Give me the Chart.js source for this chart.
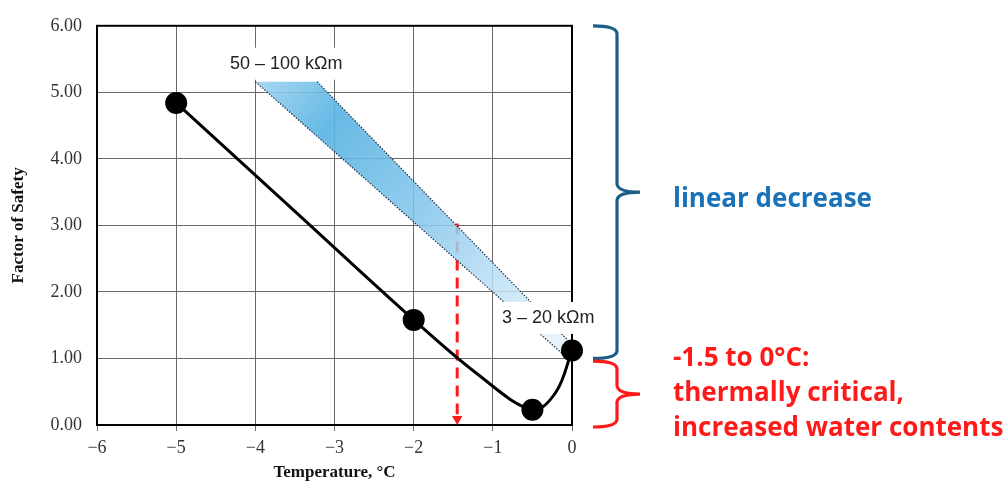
<!DOCTYPE html>
<html>
<head>
<meta charset="utf-8">
<script src="https://cdn.jsdelivr.net/npm/chart.js@4.4.1/dist/chart.umd.min.js"></script>
<style>
  html, body { margin: 0; padding: 0; background: #fff; }
  #wrap { width: 1008px; height: 483px; position: relative; }
</style>
</head>
<body>
<div id="wrap"><canvas id="fos"></canvas></div>
<script>
// measured points (temperature °C, factor of safety)
const pointT = [-5, -2, -0.5, 0];
const pointF = [4.84, 1.58, 0.23, 1.12];

// the smooth trend line
const curveT = [-5, -3.5, -2, -1.2, -0.5, -0.2, 0];
const curveF = [4.84, 3.21, 1.58, 0.77, 0.23, 0.5, 1.12];

// resistivity band (corners of the shaded strip)
const bandT = [-4, -3.22, 0, -0.12];
const bandF = [5.16, 5.16, 1.21, 1.07];
const bandLeftT = [-4, -0.12];
const bandLeftF = [5.16, 1.07];
const bandRightT = [-3.22, 0];
const bandRightF = [5.16, 1.21];

// red dashed arrow at -1.5 °C
const arrowT = [-1.45, -1.45];
const arrowF = [3.03, 0.16];
const arrowHeadF = [0.09];

// band labels
const bandLabels = ["50 \u2013 100 k\u03A9m", "3 \u2013 20 k\u03A9m"];
const bandLabelT = [-3.61, -0.30];
const bandLabelF = [5.43, 1.61];

// braces on the right: [top, bottom] in factor-of-safety units
const braceBlue = [6.0, 1.0];
const braceRed = [0.96, -0.03];
const blueText = ["linear decrease"];
const redText = ["-1.5 to 0\u00B0C:", "thermally critical,", "increased water contents"];

const xTicks = [-6, -5, -4, -3, -2, -1, 0];
const yTicks = [0, 1, 2, 3, 4, 5, 6];

function pts(xs, ys) {
    return xs.map(function (x, i) { return { x: x, y: ys[i] }; });
}

const frame = {
    id: "frame",
    beforeDatasetsDraw: function (chart) {
        const a = chart.chartArea;
        const ctx = chart.ctx;
        ctx.save();
        ctx.strokeStyle = "#000";
        ctx.lineWidth = 2;
        ctx.strokeRect(a.left, a.top, a.right - a.left, a.bottom - a.top);
        ctx.restore();
    },
    afterDatasetsDraw: function (chart) {
        const ctx = chart.ctx;
        const xs = chart.scales.x;
        const ys = chart.scales.y;
        const a = chart.chartArea;

        // band labels on white boxes
        ctx.save();
        ctx.font = "18px 'Liberation Sans', Arial, sans-serif";
        ctx.textAlign = "center";
        ctx.textBaseline = "middle";
        bandLabels.forEach(function (t, i) {
            const cx = xs.getPixelForValue(bandLabelT[i]);
            const cy = ys.getPixelForValue(bandLabelF[i]);
            const w = ctx.measureText(t).width + 12;
            ctx.fillStyle = "#fff";
            ctx.fillRect(cx - w / 2, cy - 16, w, 32);
            ctx.fillStyle = "#222";
            ctx.fillText(t, cx, cy);
        });
        ctx.restore();

        function brace(range, color) {
            const top = ys.getPixelForValue(range[0]);
            const bot = ys.getPixelForValue(range[1]);
            const mid = (top + bot) / 2;
            const x0 = a.right + 21, x1 = a.right + 45, x2 = a.right + 68;
            ctx.save();
            ctx.strokeStyle = color;
            ctx.lineWidth = 3.2;
            ctx.lineJoin = "round";
            ctx.beginPath();
            ctx.moveTo(x0, top);
            ctx.quadraticCurveTo(x1, top, x1, top + 8);
            ctx.lineTo(x1, mid - 8);
            ctx.quadraticCurveTo(x1 + 1, mid, x2, mid);
            ctx.moveTo(x2, mid);
            ctx.quadraticCurveTo(x1 + 1, mid, x1, mid + 8);
            ctx.lineTo(x1, bot - 8);
            ctx.quadraticCurveTo(x1, bot, x0, bot);
            ctx.stroke();
            ctx.restore();
            return mid;
        }

        const bMid = brace(braceBlue, "#1b5e87");
        const rMid = brace(braceRed, "#ff1a1a");

        ctx.save();
        ctx.textAlign = "left";
        ctx.textBaseline = "middle";
        ctx.font = "bold 26px 'Open Sans', sans-serif";
        ctx.fillStyle = "#1a72b9";
        ctx.fillText(blueText[0], a.right + 101, bMid + 7);
        ctx.fillStyle = "#ff1a1a";
        redText.forEach(function (t, i) {
            ctx.fillText(t, a.right + 101, rMid - 35 + i * 35);
        });
        ctx.restore();
    }
};

new Chart(document.getElementById("fos"), {
    type: "scatter",
    data: {
        datasets: [
            {
                data: pts(pointT, pointF),
                backgroundColor: "#000",
                borderWidth: 0,
                pointRadius: 11,
                pointHoverRadius: 11,
                clip: false,
                order: 0
            },
            {
                data: pts(curveT, curveF),
                showLine: true,
                borderColor: "#000",
                borderWidth: 3,
                pointRadius: 0,
                tension: 0.35,
                order: 1
            },
            {
                data: pts(bandLeftT, bandLeftF),
                showLine: true,
                borderColor: "rgba(20,30,50,0.9)",
                borderWidth: 1.2,
                borderDash: [1.5, 1.5],
                pointRadius: 0,
                order: 2
            },
            {
                data: pts(bandRightT, bandRightF),
                showLine: true,
                borderColor: "rgba(20,30,50,0.9)",
                borderWidth: 1.2,
                borderDash: [1.5, 1.5],
                pointRadius: 0,
                order: 2
            },
            {
                data: pts(bandT, bandF),
                showLine: true,
                borderWidth: 0,
                pointRadius: 0,
                fill: "shape",
                backgroundColor: function (c) {
                    const chart = c.chart;
                    if (!chart.chartArea) return "rgba(90,180,225,0.8)";
                    const xs = chart.scales.x, ys = chart.scales.y;
                    const g = chart.ctx.createLinearGradient(
                        xs.getPixelForValue(-4), ys.getPixelForValue(5.16),
                        xs.getPixelForValue(-0.3), ys.getPixelForValue(1.5));
                    g.addColorStop(0, "rgba(160,212,240,0.9)");
                    g.addColorStop(0.22, "rgba(86,178,226,0.9)");
                    g.addColorStop(0.55, "rgba(128,196,234,0.85)");
                    g.addColorStop(1, "rgba(225,241,251,0.85)");
                    return g;
                },
                order: 3
            },
            {
                data: pts(arrowT, arrowF),
                showLine: true,
                borderColor: "#ff1a1a",
                borderWidth: 3,
                borderDash: [11, 7],
                pointRadius: 0,
                order: 4
            },
            {
                data: pts([arrowT[1]], arrowHeadF),
                pointStyle: "triangle",
                rotation: 180,
                pointRadius: 6,
                backgroundColor: "#ff1a1a",
                borderWidth: 0,
                order: 4
            }
        ]
    },
    options: {
        responsive: true,
        maintainAspectRatio: false,
        animation: false,
        events: [],
        layout: { padding: { left: 0, top: 22, right: 436, bottom: 0 } },
        plugins: {
            legend: { display: false },
            tooltip: { enabled: false }
        },
        scales: {
            x: {
                type: "linear",
                min: -6,
                max: 0,
                afterBuildTicks: function (s) { s.ticks = xTicks.map(function (v) { return { value: v }; }); },
                afterFit: function (s) { s.height = 58; },
                ticks: {
                    font: { family: "'Liberation Serif', 'Times New Roman', serif", size: 18 },
                    color: "#333",
                    padding: 6,
                    callback: function (v) { return v < 0 ? "\u2212" + Math.abs(v) : String(v); }
                },
                grid: { color: "#6a6a6a", lineWidth: 1, tickLength: 6, tickColor: "#6a6a6a" },
                border: { display: false },
                title: {
                    display: true,
                    text: "Temperature, \u00B0C",
                    font: { family: "'Liberation Serif', 'Times New Roman', serif", size: 17, weight: "bold" },
                    color: "#111",
                    padding: { top: 0, bottom: 0 }
                }
            },
            y: {
                type: "linear",
                min: 0,
                max: 6,
                afterBuildTicks: function (s) { s.ticks = yTicks.map(function (v) { return { value: v }; }); },
                afterFit: function (s) { s.width = 97; },
                ticks: {
                    font: { family: "'Liberation Serif', 'Times New Roman', serif", size: 18 },
                    color: "#333",
                    padding: 15,
                    callback: function (v) { return Number(v).toFixed(2); }
                },
                grid: { color: "#6a6a6a", lineWidth: 1, drawTicks: false },
                border: { display: false },
                title: {
                    display: true,
                    text: "Factor of Safety",
                    font: { family: "'Liberation Serif', 'Times New Roman', serif", size: 17, weight: "bold" },
                    color: "#111",
                    padding: { top: 8, bottom: 0 }
                }
            }
        }
    },
    plugins: [frame]
});
</script>
</body>
</html>
